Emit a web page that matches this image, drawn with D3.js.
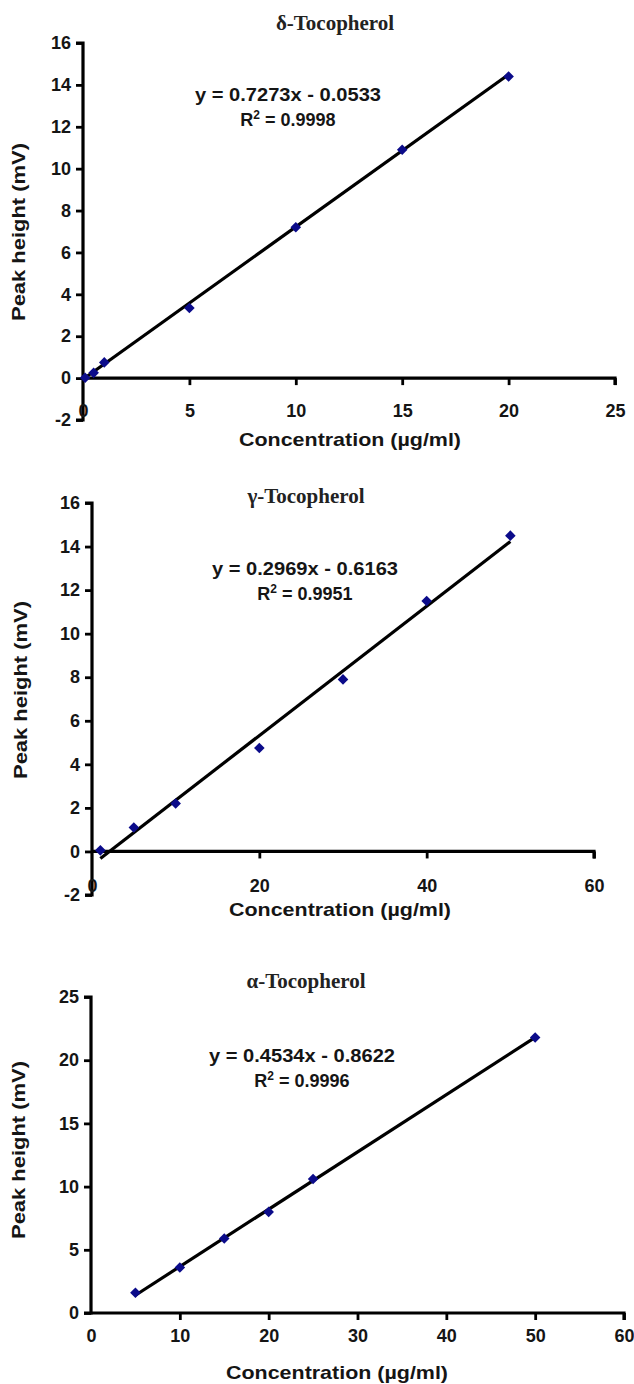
<!DOCTYPE html>
<html><head><meta charset="utf-8">
<script src="https://cdn.jsdelivr.net/npm/d3@7"></script>
<style>body{margin:0;background:#fff}svg{display:block}</style>
</head><body>
<script>
// ---- data ----
const deltaX = [0.1, 0.5, 1, 5, 10, 15, 20];
const deltaY = [0.02, 0.25, 0.75, 3.35, 7.2, 10.9, 14.4];
const gammaX = [1, 5, 10, 20, 30, 40, 50];
const gammaY = [0.05, 1.1, 2.2, 4.75, 7.9, 11.5, 14.5];
const alphaX = [5, 10, 15, 20, 25, 50];
const alphaY = [1.6, 3.6, 5.9, 8.0, 10.6, 21.8];
const deltaFit = {slope: 0.7273, intercept: -0.0533, from: 0, to: 20, eq: "y = 0.7273x - 0.0533", r2: "0.9998"};
const gammaFit = {slope: 0.2969, intercept: -0.6163, from: 1, to: 50, eq: "y = 0.2969x - 0.6163", r2: "0.9951"};
const alphaFit = {slope: 0.4534, intercept: -0.8622, from: 5, to: 50, eq: "y = 0.4534x - 0.8622", r2: "0.9996"};
const deltaXTicks = [0, 5, 10, 15, 20, 25];
const deltaYTicks = [-2, 0, 2, 4, 6, 8, 10, 12, 14, 16];
const gammaXTicks = [0, 20, 40, 60];
const gammaYTicks = [-2, 0, 2, 4, 6, 8, 10, 12, 14, 16];
const alphaXTicks = [0, 10, 20, 30, 40, 50, 60];
const alphaYTicks = [0, 5, 10, 15, 20, 25];

const SANS = "Liberation Sans, Arial, sans-serif";
const svg = d3.select("body").append("svg").attr("width", 634).attr("height", 1384);

function panel(o) {
  const x = d3.scaleLinear().domain(o.xd).range(o.xr);
  const y = d3.scaleLinear().domain(o.yd).range(o.yr);
  const g = svg.append("g");
  const fmt = d => String(d);
  // y axis
  const ya = g.append("g").attr("transform", `translate(${x(0)},0)`)
    .call(d3.axisLeft(y).tickValues(o.yt).tickSize(7).tickPadding(5).tickFormat(fmt));
  ya.select(".domain").attr("stroke", "#000").attr("stroke-width", 3.2).attr("d", `M-7,${y(o.yd[0])}H0V${y(o.yd[1])}H-7`);
  ya.selectAll(".tick line").attr("stroke", "#000").attr("stroke-width", 2.8);
  ya.selectAll(".tick text").attr("font-family", SANS)
    .attr("font-weight", "bold").attr("font-size", 18).attr("fill", "#151515");
  // x axis at y=0
  const xa = g.append("g").attr("transform", `translate(0,${y(0)})`)
    .call(d3.axisBottom(x).tickValues(o.xt).tickSize(7).tickPadding(o.xpad).tickFormat(fmt));
  xa.select(".domain").attr("stroke", "#000").attr("stroke-width", 3.2).attr("d", `M${o.xr[0]},0H${o.xr[1]}V7`);
  xa.selectAll(".tick line").attr("stroke", "#000").attr("stroke-width", 2.8)
    .attr("opacity", d => d === 0 ? 0 : 1);
  xa.selectAll(".tick text").attr("font-family", SANS)
    .attr("font-weight", "bold").attr("font-size", 18).attr("fill", "#151515");
  // fit line
  const f = o.fit;
  g.append("line")
    .attr("x1", x(f.from)).attr("y1", y(f.slope * f.from + f.intercept))
    .attr("x2", x(f.to)).attr("y2", y(f.slope * f.to + f.intercept))
    .attr("stroke", "#000").attr("stroke-width", 3.2);
  // points
  const pts = o.xs.map((v, i) => [v, o.ys[i]]);
  g.selectAll("path.pt").data(pts).join("path").attr("class", "pt")
    .attr("d", d3.symbol(d3.symbolSquare, 56))
    .attr("transform", d => `translate(${x(d[0])},${y(d[1])}) rotate(45)`)
    .attr("fill", "#0b0b8a");
  // title
  g.append("text").attr("x", o.title[1]).attr("y", o.title[2]).attr("text-anchor", "middle")
    .attr("font-family", "Liberation Serif, Times New Roman, serif").attr("font-weight", "bold")
    .attr("font-size", 21).attr("fill", "#222").text(o.title[0]);
  // equation
  g.append("text").attr("x", o.eqPos[0]).attr("y", o.eqPos[1]).attr("text-anchor", "middle")
    .attr("font-family", SANS).attr("font-weight", "bold")
    .attr("font-size", 18).attr("fill", "#151515")
    .attr("textLength", 186).attr("lengthAdjust", "spacingAndGlyphs").text(f.eq);
  const r = g.append("text").attr("x", o.eqPos[0]).attr("y", o.eqPos[1] + 25).attr("text-anchor", "middle")
    .attr("font-family", SANS).attr("font-weight", "bold")
    .attr("font-size", 18).attr("fill", "#151515");
  r.append("tspan").text("R");
  r.append("tspan").attr("font-size", 12).attr("dy", -7).text("2");
  r.append("tspan").attr("dy", 7).text(" = " + f.r2);
  // axis titles
  g.append("text").attr("x", o.xTitle[0]).attr("y", o.xTitle[1]).attr("text-anchor", "middle")
    .attr("font-family", SANS).attr("font-weight", "bold")
    .attr("font-size", 19).attr("fill", "#151515")
    .attr("textLength", 222).attr("lengthAdjust", "spacingAndGlyphs").text("Concentration (µg/ml)");
  g.append("text").attr("transform", `translate(${o.yTitle[0]},${o.yTitle[1]}) rotate(-90)`)
    .attr("text-anchor", "middle")
    .attr("font-family", SANS).attr("font-weight", "bold")
    .attr("font-size", 18).attr("fill", "#151515")
    .attr("textLength", 178).attr("lengthAdjust", "spacingAndGlyphs").text("Peak height (mV)");
}

panel({xs: deltaX, ys: deltaY, fit: deltaFit, xd: [0, 25], xr: [83, 615], yd: [-2, 16], yr: [420, 43],
  xt: deltaXTicks, yt: deltaYTicks, xpad: 19, title: ["δ-Tocopherol", 335, 30], eqPos: [288, 101],
  xTitle: [350, 446], yTitle: [25, 232]});
panel({xs: gammaX, ys: gammaY, fit: gammaFit, xd: [0, 60], xr: [92, 594], yd: [-2, 16], yr: [895, 503],
  xt: gammaXTicks, yt: gammaYTicks, xpad: 21, title: ["γ-Tocopherol", 306, 503], eqPos: [305, 575],
  xTitle: [340, 916], yTitle: [27, 690]});
panel({xs: alphaX, ys: alphaY, fit: alphaFit, xd: [0, 60], xr: [91, 624], yd: [0, 25], yr: [1313, 997],
  xt: alphaXTicks, yt: alphaYTicks, xpad: 9, title: ["α-Tocopherol", 306, 988], eqPos: [302, 1062],
  xTitle: [337, 1379], yTitle: [25, 1150]});
</script>
</body></html>
